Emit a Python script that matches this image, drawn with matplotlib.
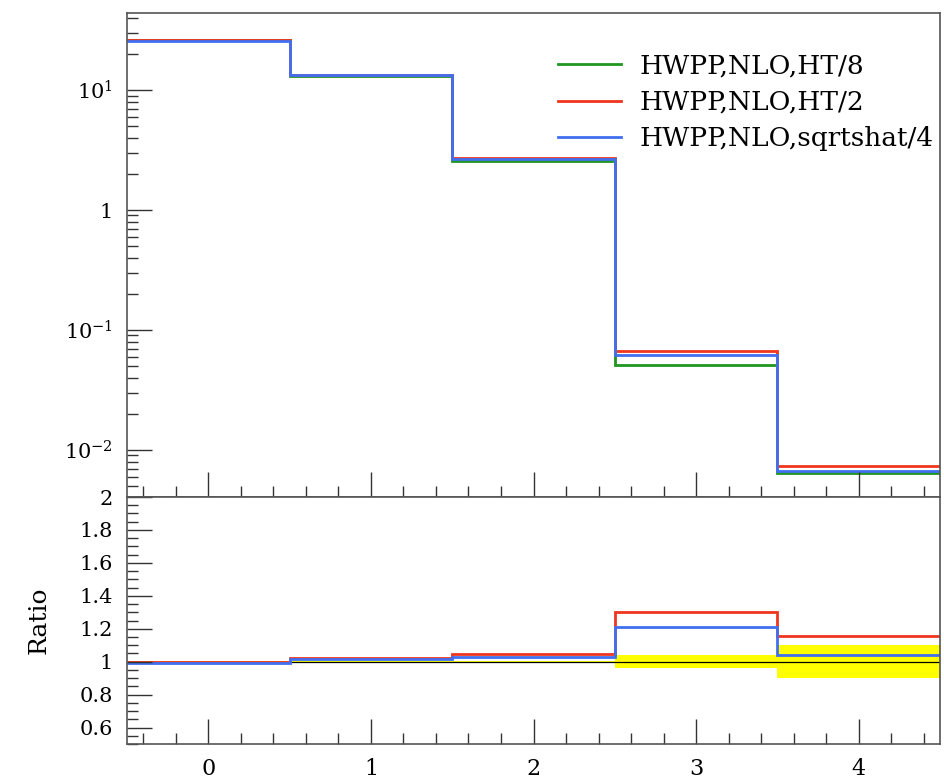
import matplotlib
matplotlib.use("Agg")
import matplotlib.pyplot as plt
import numpy as np
from matplotlib.ticker import FixedLocator, MultipleLocator, LogLocator, NullFormatter, FixedFormatter

plt.rcParams['font.family'] = ['DejaVu Serif']
plt.rcParams['mathtext.fontset'] = 'dejavuserif'

# Data
bin_edges = [-0.5, 0.5, 1.5, 2.5, 3.5, 4.5]
labels = ["HWPP,NLO,HT/8", "HWPP,NLO,HT/2", "HWPP,NLO,sqrtshat/4"]
colors = ["#1f961f", "#f0361e", "#4070f0"]
ht8 = [26.0, 13.0, 2.58, 0.0515, 0.0064]
ht2 = [26.0, 13.31, 2.707, 0.067, 0.00738]
sqrtshat4 = [25.82, 13.22, 2.655, 0.0623, 0.00666]
ref_relerr = [0.003, 0.003, 0.004, 0.04, 0.10]

series = [ht8, ht2, sqrtshat4]

fig = plt.figure(figsize=(9.44, 7.8), dpi=100)
left, width = 127/944, 813/944
ax = fig.add_axes([left, 1-497/780, width, 484/780])
axr = fig.add_axes([left, 1-744/780, width, 247/780], sharex=ax)

edges = np.array(bin_edges)
for vals, c, lab in zip(series, colors, labels):
    ax.stairs(vals, edges, color=c, lw=2.0, label=lab, baseline=None)

ax.set_yscale('log')
ax.set_xlim(-0.5, 4.5)
ax.set_ylim(10**-2.392, 10**1.642)
ax.yaxis.set_major_locator(FixedLocator([0.01, 0.1, 1, 10]))
ax.yaxis.set_major_formatter(FixedFormatter([r'$10^{-2}$', r'$10^{-1}$', '1', r'$10^{1}$']))
ax.yaxis.set_minor_locator(LogLocator(base=10, subs=np.arange(2, 10)))
ax.yaxis.set_minor_formatter(NullFormatter())

leg = ax.legend(loc='upper left', bbox_to_anchor=(0.530, 0.916), frameon=False,
                fontsize=19, handlelength=2.4, handletextpad=0.7, labelspacing=0.42,
                borderaxespad=0, borderpad=0)

# Ratio panel
ref = np.array(ht8)
err = np.array(ref_relerr)
axr.stairs(1+err, edges, baseline=1-err, fill=True, color='#ffff00', lw=0)
axr.stairs(np.ones(len(ref)), edges, color='black', lw=0.9, baseline=None)
for vals, c in zip(series[1:], colors[1:]):
    axr.stairs(np.array(vals)/ref, edges, color=c, lw=2.0, baseline=None)
axr.set_ylim(0.5, 2.0)
axr.yaxis.set_major_locator(FixedLocator([0.6, 0.8, 1.0, 1.2, 1.4, 1.6, 1.8, 2.0]))
axr.yaxis.set_major_formatter(FixedFormatter(['0.6', '0.8', '1', '1.2', '1.4', '1.6', '1.8', '2']))
axr.yaxis.set_minor_locator(MultipleLocator(0.05))
axr.set_ylabel('Ratio', fontsize=18, labelpad=21)

axr.xaxis.set_major_locator(FixedLocator([0, 1, 2, 3, 4]))
axr.xaxis.set_minor_locator(MultipleLocator(0.2))

for a in (ax, axr):
    a.tick_params(which='major', direction='in', length=18, width=1.0, color='#333333',
                  top=False, right=False, labelsize=15)
    a.tick_params(which='minor', direction='in', length=8, width=1.0, color='#333333',
                  top=False, right=False)
    a.tick_params(axis='y', pad=10)
    for s in a.spines.values():
        s.set_color('#555555')
        s.set_linewidth(1.2)
ax.tick_params(axis='x', labelbottom=False)
axr.tick_params(axis='x', pad=10, labelsize=16)

fig.savefig('out.png', dpi=100)
